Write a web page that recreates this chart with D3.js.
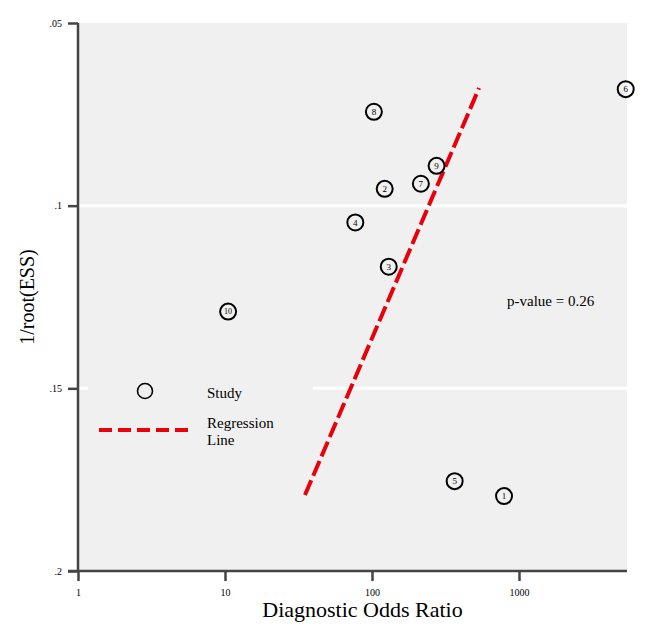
<!DOCTYPE html>
<html><head><meta charset="utf-8">
<script src="https://cdn.jsdelivr.net/npm/d3@7"></script>
<style>body{margin:0;background:#fff}svg{display:block}text{font-family:"Liberation Serif","Times New Roman",serif}</style>
</head><body><svg id="c" width="655" height="629"></svg>
<script>
const studies = ["1","2","3","4","5","6","7","8","9","10"];
const dor = [791, 122, 130, 77, 365, 5320, 215, 103, 275, 10.5];
const invRootEss = [0.1795, 0.0954, 0.1167, 0.1046, 0.1754, 0.0681, 0.094, 0.0743, 0.0891, 0.129];
const regX = [35, 535];
const regY = [0.1792, 0.0678];
const xTicks = [1, 10, 100, 1000];
const yTicks = [0.05, 0.1, 0.15, 0.2];
const yTickLabels = [".05", ".1", ".15", ".2"];

const L = 78, R = 627, T = 23, B = 571;
const svg = d3.select("#c");
const x = d3.scaleLog().domain([1, Math.pow(10, (R - L) / 147)]).range([L, R]);
const y = d3.scaleLinear().domain([0.05, 0.2]).range([T, B]);

svg.append("rect").attr("x", L).attr("y", T).attr("width", R - L).attr("height", B - T).attr("fill", "#f0f0f0");

// gridlines
svg.append("line").attr("x1", L).attr("x2", R).attr("y1", y(0.1)).attr("y2", y(0.1)).attr("stroke", "#fff").attr("stroke-width", 3);
svg.append("line").attr("x1", L).attr("x2", R).attr("y1", y(0.15)).attr("y2", y(0.15)).attr("stroke", "#fff").attr("stroke-width", 3);

// legend box (covers gridline)
svg.append("rect").attr("x", 88).attr("y", 372).attr("width", 225).attr("height", 80).attr("fill", "#f0f0f0");

// axes
const xAxis = d3.axisBottom(x).tickValues(xTicks).tickFormat(d3.format("d")).tickSize(10).tickPadding(8);
const gx = svg.append("g").attr("transform", `translate(0,${B})`).call(xAxis);
gx.select(".domain").attr("stroke", "#444").attr("stroke-width", 2.5).attr("d", `M${L - 10},0H${R}`);
gx.selectAll(".tick line").attr("stroke", "#444").attr("stroke-width", 2.5);
gx.selectAll(".tick text").attr("font-size", 10).attr("fill", "#000").attr("font-family", "Liberation Serif");

const yAxis = d3.axisLeft(y).tickValues(yTicks).tickFormat((d, i) => yTickLabels[i]).tickSize(10).tickPadding(6);
const gy = svg.append("g").attr("transform", `translate(${L},0)`).call(yAxis);
gy.select(".domain").attr("stroke", "#444").attr("stroke-width", 2.5).attr("d", `M0,${T}V${B}`);
gy.selectAll(".tick line").attr("stroke", "#444").attr("stroke-width", 2.5);
gy.selectAll(".tick text").attr("font-size", 10).attr("fill", "#000").attr("font-family", "Liberation Serif");

// regression line
svg.append("line")
  .attr("x1", x(regX[0])).attr("y1", y(regY[0]))
  .attr("x2", x(regX[1])).attr("y2", y(regY[1]))
  .attr("stroke", "#e8000b").attr("stroke-width", 4).attr("stroke-dasharray", "16,5");

// points
const pts = svg.append("g").selectAll("g").data(studies).join("g")
  .attr("transform", (d, i) => `translate(${x(dor[i])},${y(invRootEss[i])})`);
pts.append("circle").attr("r", 8).attr("fill", "none").attr("stroke", "#000").attr("stroke-width", 2);
pts.append("text").text(d => d).attr("text-anchor", "middle").attr("dy", "0.35em")
  .attr("font-size", d => d.length > 1 ? 8 : 9).attr("fill", "#000");

// legend
svg.append("circle").attr("cx", 145).attr("cy", 391).attr("r", 7.5).attr("fill", "none").attr("stroke", "#000").attr("stroke-width", 1.6);
svg.append("text").attr("x", 207).attr("y", 398).attr("font-size", 15).text("Study");
svg.append("line").attr("x1", 99).attr("x2", 192).attr("y1", 430).attr("y2", 430)
  .attr("stroke", "#e8000b").attr("stroke-width", 4).attr("stroke-dasharray", "13,6");
svg.append("text").attr("x", 207).attr("y", 428).attr("font-size", 15).text("Regression");
svg.append("text").attr("x", 207).attr("y", 445).attr("font-size", 15).text("Line");

// p-value
svg.append("text").attr("x", 507).attr("y", 306).attr("font-size", 15).text("p-value = 0.26");

// axis titles
svg.append("text").attr("x", (L + R) / 2 + 10).attr("y", 617).attr("text-anchor", "middle").attr("font-size", 22).text("Diagnostic Odds Ratio");
svg.append("text").attr("transform", `translate(34,${(T + B) / 2}) rotate(-90)`).attr("text-anchor", "middle").attr("font-size", 20).text("1/root(ESS)");
</script></body></html>
